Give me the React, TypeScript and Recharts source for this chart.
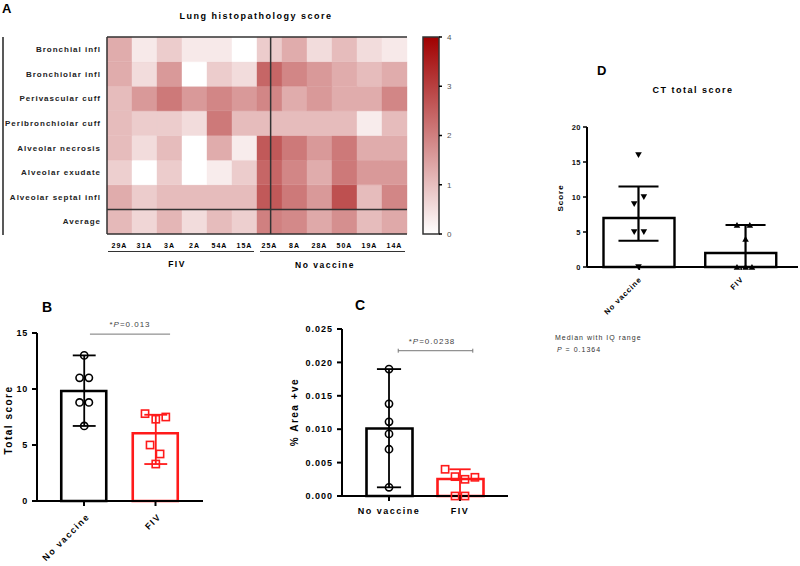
import React from "react";
import { BarChart, Bar, Cell, XAxis, YAxis, ReferenceLine, ComposedChart, Scatter } from "recharts";

const FONT = '"Liberation Sans", Arial, sans-serif';
const RED = "#ff1a1a";

// ---- A: lung histopathology heatmap ----
const samples = ["29A", "31A", "3A", "2A", "54A", "15A", "25A", "8A", "28A", "50A", "19A", "14A"];
const rowLabels = [
  "Bronchial infl",
  "Bronchiolar infl",
  "Perivascular cuff",
  "Peribronchiolar cuff",
  "Alveolar necrosis",
  "Alveolar exudate",
  "Alveolar septal infl",
  "Average",
];
// rows top to bottom, columns follow samples
const histoScores = [
  [1.3, 0.35, 0.8, 0.35, 0.35, 0, 0.8, 1.3, 0.55, 1.05, 0.55, 0.35],
  [1.3, 0.55, 1.6, 0, 0.8, 0.55, 2.4, 1.9, 1.6, 1.3, 1.05, 1.3],
  [1.05, 1.6, 2.1, 1.6, 1.9, 1.6, 1.9, 1.3, 1.6, 1.3, 1.3, 1.9],
  [1.05, 0.8, 0.8, 0.55, 2.1, 1.05, 1.05, 1.05, 1.05, 1.05, 0.3, 1.05],
  [1.05, 0.55, 1.05, 0, 1.3, 0.3, 2.6, 2.1, 1.6, 2.1, 1.3, 1.3],
  [0.75, 0, 0.8, 0, 0.3, 0.8, 2.4, 1.9, 1.3, 2.1, 1.6, 1.6],
  [1.3, 0.8, 1.05, 1.05, 1.05, 1.05, 2.6, 2.1, 1.6, 2.75, 1.05, 1.9],
  [1.1, 0.65, 1.15, 0.55, 1.05, 0.75, 2.0, 1.85, 1.35, 1.75, 1.05, 1.35],
];
const colorbarTicks = [0, 1, 2, 3, 4];

// ---- B: total score ----
const groups = ["No vaccine", "FIV"];
const barsB = [9.82, 6.05];
const lowB = [6.7, 3.3];
const highB = [13, 7.7];
const ptsBNoVac = [13, 11, 11, 8.8, 8.8, 6.7];
const jitBNoVac = [0, -0.065, 0.065, -0.065, 0.065, 0];
const ptsBFiv = [7.8, 7.3, 7.5, 5.0, 4.2, 3.3];
const jitBFiv = [-0.15, 0, 0.14, -0.08, 0.06, 0];

// ---- C: % area +ve ----
const barsC = [0.0101, 0.00254];
const lowC = [0.0013, 0];
const highC = [0.019, 0.004];
const ptsCNoVac = [0.019, 0.0138, 0.0111, 0.0093, 0.007, 0.0013];
const jitCNoVac = [0, 0, 0, 0, 0, 0];
const ptsCFiv = [0.004, 0.0029, 0.0025, 0.0028, 0, 0];
const jitCFiv = [-0.21, -0.07, 0.07, 0.21, -0.07, 0.07];

// ---- D: CT total score ----
const barsD = [7.0, 2.0];
const lowD = [3.75, 0];
const highD = [11.5, 6];
const ptsDNoVac = [16, 10, 9, 5, 5, 0];
const jitDNoVac = [0, 0.05, -0.04, -0.04, 0.05, 0];
const ptsDFiv = [6, 6, 4, 0, 0, 0];
const jitDFiv = [-0.08, 0.04, 0, -0.08, 0, 0.06];

function heatColor(v: number) {
  const t = Math.min(v / 4, 1);
  const r = Math.round(255 - 95 * t);
  const g = Math.round(255 - 255 * t);
  return `rgb(${r},${g},${g})`;
}

const heatData = samples.map((s) => {
  const row: any = { sample: s };
  rowLabels.forEach((_, i) => (row[`r${i}`] = 1));
  return row;
});

const toBars = (vals: number[]) => vals.map((y, i) => ({ name: groups[i], x: i, y }));
const toPoints = (vals: number[], jit: number[], group: number) =>
  vals.map((y, i) => ({ x: group + jit[i], y }));

const OpenCircle = (p: any) => (
  <circle cx={p.cx} cy={p.cy} r={3.6} fill="none" stroke="#000" strokeWidth={1.6} />
);
const OpenSquare = (p: any) => (
  <rect x={p.cx - 3.6} y={p.cy - 3.6} width={7.2} height={7.2} fill="none" stroke={RED} strokeWidth={1.6} />
);
const TriDown = (p: any) => (
  <path d={`M${p.cx - 3.3},${p.cy - 2.7}L${p.cx + 3.3},${p.cy - 2.7}L${p.cx},${p.cy + 2.9}Z`} fill="#000" />
);
const TriUp = (p: any) => (
  <path d={`M${p.cx - 3.3},${p.cy + 2.7}L${p.cx + 3.3},${p.cy + 2.7}L${p.cx},${p.cy - 2.9}Z`} fill="#000" />
);

function slantTick(fontSize: number, dx: number, dy: number, spacing: number) {
  return (p: any) => (
    <g transform={`translate(${p.x + dx},${p.y + dy}) rotate(-45)`}>
      <text textAnchor="end" dy="0.35em" fontSize={fontSize} fontWeight={700} fontFamily={FONT} letterSpacing={spacing} fill="#000">
        {p.payload.value}
      </text>
    </g>
  );
}

const RowTick = (p: any) => (
  <text x={p.x} y={p.y} dy="0.35em" textAnchor="end" fontSize={8} fontWeight={700} fontFamily={FONT} letterSpacing={1} fill="#222">
    {rowLabels[Math.round(rowLabels.length - 0.5 - p.payload.value)]}
  </text>
);

function whisker(x: number, lo: number, hi: number, half: number, color: string, width: number, key: string) {
  return [
    <ReferenceLine key={`${key}v`} xAxisId="n" segment={[{ x, y: lo }, { x, y: hi }]} stroke={color} strokeWidth={width} />,
    <ReferenceLine key={`${key}h`} xAxisId="n" segment={[{ x: x - half, y: hi }, { x: x + half, y: hi }]} stroke={color} strokeWidth={width} />,
    <ReferenceLine key={`${key}l`} xAxisId="n" segment={[{ x: x - half, y: lo }, { x: x + half, y: lo }]} stroke={color} strokeWidth={width} />,
  ];
}

function bracket(x1: number, x2: number, y: number, tick: number) {
  return [
    <ReferenceLine key="bk" xAxisId="n" segment={[{ x: x1, y }, { x: x2, y }]} stroke="#777" strokeWidth={1} />,
    <ReferenceLine key="bk1" xAxisId="n" segment={[{ x: x1, y: y - tick }, { x: x1, y: y + tick }]} stroke="#777" strokeWidth={1} />,
    <ReferenceLine key="bk2" xAxisId="n" segment={[{ x: x2, y: y - tick }, { x: x2, y: y + tick }]} stroke="#777" strokeWidth={1} />,
  ];
}

const boldTick = (size: number, spacing: number) => ({
  fontSize: size,
  fontWeight: 700,
  fill: "#000",
  fontFamily: FONT,
  letterSpacing: spacing,
});

const axisStroke = { stroke: "#000", strokeWidth: 2 };

function Heatmap() {
  const n = rowLabels.length;
  return (
    <BarChart width={410} height={260} data={heatData} margin={{ top: 37, right: 3, bottom: 11, left: 0 }} barCategoryGap={0}>
      <XAxis dataKey="sample" height={15} tickLine={false} axisLine={false} tickSize={0} tickMargin={9} interval={0} tick={boldTick(7, 1)} />
      <XAxis xAxisId="n" type="number" domain={[0, samples.length]} hide />
      <YAxis
        type="number"
        domain={[0, n]}
        ticks={rowLabels.map((_, i) => n - i - 0.5)}
        width={107}
        axisLine={false}
        tickLine={false}
        tickSize={0}
        tickMargin={6}
        interval={0}
        tick={RowTick}
      />
      {rowLabels
        .map((_, i) => (
          <Bar key={i} dataKey={`r${i}`} stackId="h" isAnimationActive={false}>
            {samples.map((s, j) => (
              <Cell key={s} fill={heatColor(histoScores[i][j])} stroke={heatColor(histoScores[i][j])} strokeWidth={0.4} />
            ))}
          </Bar>
        ))
        .reverse()}
      <ReferenceLine y={0} stroke="#333" strokeWidth={1.5} />
      <ReferenceLine y={1} stroke="#333" strokeWidth={1.5} />
      <ReferenceLine y={n} stroke="#333" strokeWidth={1.5} />
      <ReferenceLine xAxisId="n" x={0} stroke="#333" strokeWidth={1.5} />
      <ReferenceLine xAxisId="n" x={6} stroke="#333" strokeWidth={1.5} />
      <ReferenceLine xAxisId="n" x={samples.length} stroke="#333" strokeWidth={1.5} />
    </BarChart>
  );
}

function ColorBar() {
  return (
    <BarChart width={61} height={260} data={[{ k: "scale", v: 4 }]} margin={{ top: 37, right: 0, bottom: 26, left: 8 }} barCategoryGap={0}>
      <XAxis dataKey="k" hide />
      <YAxis
        orientation="right"
        domain={[0, 4]}
        ticks={colorbarTicks}
        width={37}
        axisLine={false}
        tickSize={3}
        tickMargin={5}
        tickLine={{ stroke: "#000", strokeWidth: 1.5 }}
        tick={{ fontSize: 8, fill: "#555", fontFamily: FONT }}
      />
      <Bar dataKey="v" fill="url(#heatGrad)" stroke="#333" strokeWidth={1.5} isAnimationActive={false} />
    </BarChart>
  );
}

function PanelB() {
  return (
    <ComposedChart width={215} height={266} data={toBars(barsB)} margin={{ top: 33, right: 12, bottom: 10, left: 0 }}>
      <XAxis
        dataKey="name"
        padding={{ left: 11.25, right: 11.75 }}
        height={55}
        tickSize={5}
        tickMargin={2}
        axisLine={axisStroke}
        tickLine={axisStroke}
        tick={slantTick(9, 4, 7, 1.5)}
      />
      <XAxis xAxisId="n" type="number" dataKey="x" domain={[-0.66, 1.66]} hide />
      <YAxis dataKey="y" domain={[0, 15]} ticks={[0, 5, 10, 15]} width={37} tickSize={5} tickMargin={4} axisLine={axisStroke} tickLine={axisStroke} tick={boldTick(9, 0.8)} />
      <Bar dataKey="y" barSize={45} fill="none" strokeWidth={2.6} isAnimationActive={false}>
        <Cell stroke="#000" />
        <Cell stroke={RED} />
      </Bar>
      {whisker(0, lowB[0], highB[0], 0.16, "#000", 1.8, "b0")}
      {whisker(1, lowB[1], highB[1], 0.16, RED, 1.8, "b1")}
      {bracket(0.08, 1.2, 14.9, 0.2)}
      <Scatter xAxisId="n" data={toPoints(ptsBNoVac, jitBNoVac, 0)} dataKey="y" shape={OpenCircle} isAnimationActive={false} />
      <Scatter xAxisId="n" data={toPoints(ptsBFiv, jitBFiv, 1)} dataKey="y" shape={OpenSquare} isAnimationActive={false} />
    </ComposedChart>
  );
}

function PanelC() {
  return (
    <ComposedChart width={260} height={260} data={toBars(barsC)} margin={{ top: 29, right: 12, bottom: 39, left: 32 }}>
      <XAxis
        dataKey="name"
        padding={{ left: 11.5, right: 12.5 }}
        height={25}
        tickSize={5}
        tickMargin={7}
        axisLine={axisStroke}
        tickLine={axisStroke}
        tick={boldTick(9, 1.5)}
      />
      <XAxis xAxisId="n" type="number" dataKey="x" domain={[-0.662, 1.676]} hide />
      <YAxis
        dataKey="y"
        domain={[0, 0.025]}
        ticks={[0, 0.005, 0.01, 0.015, 0.02, 0.025]}
        tickFormatter={(v: number) => v.toFixed(3)}
        width={50}
        tickSize={5}
        tickMargin={4}
        axisLine={axisStroke}
        tickLine={axisStroke}
        tick={boldTick(9, 1)}
      />
      <Bar dataKey="y" barSize={46} fill="none" strokeWidth={2.6} isAnimationActive={false}>
        <Cell stroke="#000" />
        <Cell stroke={RED} />
      </Bar>
      {whisker(0, lowC[0], highC[0], 0.17, "#000", 1.8, "c0")}
      {whisker(1, lowC[1], highC[1], 0.15, RED, 1.8, "c1")}
      {bracket(0.13, 1.18, 0.02175, 0.0003)}
      <Scatter xAxisId="n" data={toPoints(ptsCNoVac, jitCNoVac, 0)} dataKey="y" shape={OpenCircle} isAnimationActive={false} />
      <Scatter xAxisId="n" data={toPoints(ptsCFiv, jitCFiv, 1)} dataKey="y" shape={OpenSquare} isAnimationActive={false} />
    </ComposedChart>
  );
}

function PanelD() {
  return (
    <ComposedChart width={260} height={240} data={toBars(barsD)} margin={{ top: 27, right: 2, bottom: 13, left: 17 }}>
      <XAxis
        dataKey="name"
        padding={{ left: 1.5, right: 6 }}
        height={60}
        tickSize={3}
        tickMargin={2}
        axisLine={axisStroke}
        tickLine={{ stroke: "#000", strokeWidth: 1.5 }}
        tick={slantTick(7.5, 1, 6, 1)}
      />
      <XAxis xAxisId="n" type="number" dataKey="x" domain={[-0.481, 1.49]} hide />
      <YAxis
        dataKey="y"
        domain={[0, 20]}
        ticks={[0, 5, 10, 15, 20]}
        width={30}
        tickSize={4}
        tickMargin={2}
        axisLine={axisStroke}
        tickLine={{ stroke: "#000", strokeWidth: 1.5 }}
        tick={{ ...boldTick(7.5, 0.5), fill: "#111" }}
      />
      <Bar dataKey="y" barSize={71} fill="none" stroke="#000" strokeWidth={2.4} isAnimationActive={false} />
      {whisker(0, lowD[0], highD[0], 0.187, "#000", 2.2, "d0")}
      {whisker(1, lowD[1], highD[1], 0.187, "#000", 2.2, "d1")}
      <Scatter xAxisId="n" data={toPoints(ptsDNoVac, jitDNoVac, 0)} dataKey="y" shape={TriDown} isAnimationActive={false} />
      <Scatter xAxisId="n" data={toPoints(ptsDFiv, jitDFiv, 1)} dataKey="y" shape={TriUp} isAnimationActive={false} />
    </ComposedChart>
  );
}

const place = (left: number, top: number): React.CSSProperties => ({ position: "absolute", left, top });

export default function App() {
  return (
    <div style={{ position: "absolute", left: 0, top: 0, width: 800, height: 566, background: "#fff", fontFamily: FONT, overflow: "hidden" }}>
      <svg width={0} height={0} style={{ position: "absolute" }}>
        <defs>
          <linearGradient id="heatGrad" x1="0" y1="0" x2="0" y2="1">
            <stop offset="0" stopColor={heatColor(4)} />
            <stop offset="1" stopColor={heatColor(0)} />
          </linearGradient>
        </defs>
      </svg>
      <div style={place(0, 0)}><Heatmap /></div>
      <div style={place(415, 0)}><ColorBar /></div>
      <div style={place(0, 300)}><PanelB /></div>
      <div style={place(260, 300)}><PanelC /></div>
      <div style={place(540, 100)}><PanelD /></div>
      <svg width={800} height={566} style={{ position: "absolute", left: 0, top: 0, pointerEvents: "none" }} fontFamily={FONT}>
        <g fontWeight={700} fill="#000">
          <text x={2} y={12.5} fontSize={13}>A</text>
          <text x={42} y={312} fontSize={14}>B</text>
          <text x={355} y={310} fontSize={14}>C</text>
          <text x={597} y={75} fontSize={13}>D</text>
        </g>
        <text x={256} y={19} textAnchor="middle" fontSize={9} fontWeight={700} letterSpacing={1.5}>Lung histopathology score</text>
        <line x1={3} y1={37} x2={3} y2={235} stroke="#222" strokeWidth={1.5} />
        <line x1={108} y1={251.5} x2={254} y2={251.5} stroke="#333" strokeWidth={1.2} />
        <line x1={260} y1={251.5} x2={405} y2={251.5} stroke="#333" strokeWidth={1.2} />
        <text x={177} y={267} textAnchor="middle" fontSize={8.5} fontWeight={700} letterSpacing={1.5}>FIV</text>
        <text x={325} y={268} textAnchor="middle" fontSize={8.5} fontWeight={700} letterSpacing={1.5}>No vaccine</text>

        <text transform="translate(12,420) rotate(-90)" textAnchor="middle" fontSize={10} fontWeight={700} letterSpacing={1.5}>Total score</text>
        <text x={130} y={327} textAnchor="middle" fontSize={8} fill="#444" letterSpacing={1}>
          *<tspan fontStyle="italic">P</tspan>=0.013
        </text>

        <text transform="translate(298,412) rotate(-90)" textAnchor="middle" fontSize={10} fontWeight={700} letterSpacing={1.5}>% Area +ve</text>
        <text x={432} y={344} textAnchor="middle" fontSize={8} fill="#444" letterSpacing={1}>
          *<tspan fontStyle="italic">P</tspan>=0.0238
        </text>

        <text x={693} y={93} textAnchor="middle" fontSize={9} fontWeight={700} letterSpacing={1.5}>CT total score</text>
        <text transform="translate(563,198) rotate(-90)" textAnchor="middle" fontSize={8} fontWeight={700} letterSpacing={1}>Score</text>
        <text x={555} y={340} fontSize={7} fill="#333" letterSpacing={1}>Median with IQ range</text>
        <text x={557} y={352} fontSize={7} fill="#333" letterSpacing={1}>
          <tspan fontStyle="italic">P</tspan> = 0.1364
        </text>
      </svg>
    </div>
  );
}
